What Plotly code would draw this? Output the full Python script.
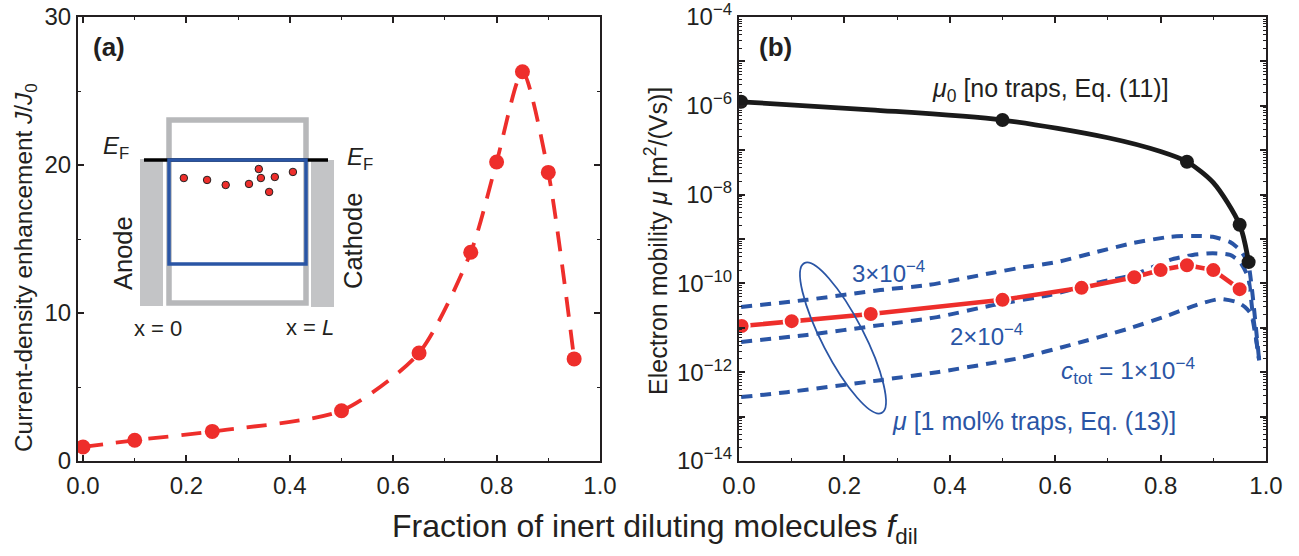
import plotly.graph_objects as go

W, H = 1299, 556
BLUE = "#2a55a5"
RED = "#ee2e2b"
GREY = "#b7b8ba"
FONT = "Liberation Sans"
TXT = "#231f20"

# Panel (a)
f_a = [0.0, 0.1, 0.25, 0.5, 0.65, 0.75, 0.8, 0.85, 0.9, 0.95]
enh = [0.95, 1.4, 2.0, 3.4, 7.3, 14.1, 20.2, 26.3, 19.5, 6.9]
inset_f = [0.195, 0.240, 0.276, 0.321, 0.340, 0.344, 0.371, 0.406, 0.360]
inset_v = [19.12, 18.99, 18.65, 18.72, 19.73, 19.12, 19.19, 19.53, 18.18]

# Panel (b): log10 of mobility
f_black = [0.004, 0.25, 0.5, 0.7, 0.8, 0.85, 0.9, 0.95, 0.967]
log_black = [-5.91, -6.09, -6.32, -6.72, -7.03, -7.26, -7.73, -8.68, -9.52]
f_red = [0.005, 0.1, 0.25, 0.5, 0.65, 0.75, 0.8, 0.85, 0.9, 0.95]
log_red = [-10.96, -10.85, -10.69, -10.37, -10.10, -9.86, -9.70, -9.59, -9.70, -10.13]
f_dots = [0.004, 0.5, 0.85, 0.95, 0.967]
log_dots = [-5.91, -6.32, -7.26, -8.68, -9.52]
f_3 = [0.004, 0.129, 0.268, 0.357, 0.482, 0.533, 0.603, 0.679, 0.748, 0.818, 0.861, 0.899, 0.932, 0.951, 0.966, 0.973, 0.987]
log_3 = [-10.53, -10.37, -10.15, -10.04, -9.76, -9.65, -9.52, -9.29, -9.09, -8.95, -8.93, -8.95, -9.07, -9.25, -9.54, -10.1, -11.73]
f_2 = [0.004, 0.129, 0.268, 0.376, 0.482, 0.59, 0.685, 0.748, 0.818, 0.861, 0.899, 0.932, 0.951, 0.966, 0.974, 0.987]
log_2 = [-11.32, -11.16, -10.94, -10.76, -10.49, -10.26, -9.97, -9.81, -9.47, -9.36, -9.32, -9.36, -9.52, -9.86, -10.6, -11.73]
f_1 = [0.004, 0.091, 0.268, 0.376, 0.482, 0.533, 0.628, 0.736, 0.805, 0.875, 0.913, 0.945, 0.96, 0.972, 0.979, 0.987]
log_1 = [-12.56, -12.45, -12.18, -12.0, -11.79, -11.68, -11.39, -11.03, -10.76, -10.46, -10.35, -10.42, -10.53, -10.7, -11.1, -11.73]

decades = list(range(-14, -3))
dec_labels = [f"10<sup>\u2212{-d}</sup>" if d % 2 == 0 else "" for d in decades]
xticks = [0.0, 0.2, 0.4, 0.6, 0.8, 1.0]
xticklabels = ["0.0", "0.2", "0.4", "0.6", "0.8", "1.0"]

# frame positions in pixels
AL, AR, BL, BR, TOP, BOT = 78, 600, 739, 1266, 17, 461


def px(x):
    return x / W


def py(y):
    return 1 - y / H


fig = go.Figure()

axis_common = dict(showline=True, linewidth=2.2, linecolor=TXT, mirror="ticks", ticks="inside",
                   tickcolor=TXT, tickwidth=1.5, showgrid=False, zeroline=False,
                   tickfont=dict(family=FONT, size=24, color=TXT))
minor_style = dict(ticks="inside", ticklen=3, tickcolor=TXT, tickwidth=1.2)
fig.update_layout(
    width=W, height=H, margin=dict(l=0, r=0, t=0, b=0, autoexpand=False), paper_bgcolor="white", plot_bgcolor="white",
    showlegend=False, font=dict(family=FONT, color=TXT),
    xaxis=dict(domain=[px(AL), px(AR)], anchor="y", range=[-0.0097, 1.0], tickvals=xticks, ticktext=xticklabels,
               ticklen=6, ticklabelstandoff=2, minor=dict(dtick=0.1, **minor_style), **axis_common),
    yaxis=dict(domain=[py(BOT), py(TOP)], anchor="x", range=[0, 30], tickvals=[0, 10, 20, 30], ticklen=6,
               minor=dict(dtick=5, **minor_style), **axis_common),
    xaxis2=dict(domain=[px(BL), px(BR)], anchor="y2", range=[0, 1.0], tickvals=xticks, ticktext=xticklabels,
                ticklen=6, ticklabelstandoff=2, minor=dict(dtick=0.1, **minor_style), **axis_common),
    yaxis2=dict(domain=[py(BOT), py(TOP)], anchor="x2", type="log", range=[-14, -4],
                tickvals=[10.0**d for d in decades], ticktext=dec_labels, ticklen=6,
                minor=dict(tickvals=[m * 10.0**d for d in decades[:-1] for m in range(2, 10)], **minor_style),
                **axis_common),
)


def rect(x0, y0, x1, y1, line=None, fill=None, lw=0):
    fig.add_shape(type="rect", xref="paper", yref="paper", x0=px(x0), x1=px(x1), y0=py(y0), y1=py(y1),
                  line=dict(color=line or "rgba(0,0,0,0)", width=lw), fillcolor=fill or "rgba(0,0,0,0)", layer="above")


# inset
rect(140, 159, 163, 306, fill="#c3c4c6")
rect(311, 160, 334, 307, fill="#c3c4c6")
rect(169, 120, 306, 303, line=GREY, lw=5.5)
fig.add_shape(type="line", xref="paper", yref="paper", x0=px(144), x1=px(328), y0=py(160), y1=py(160),
              line=dict(color="black", width=3.5), layer="above")
rect(169, 160, 306, 264, line=BLUE, lw=3.5)

# ellipse
cx, cy = 843, 338
u = (38.7, 74.9)
v = (18.6, -9.6)
k = 0.5523
P = lambda a, b: f"{px(cx + a * u[0] + b * v[0]):.5f} {py(cy + a * u[1] + b * v[1]):.5f}"
path = (f"M {P(1, 0)} C {P(1, k)} {P(k, 1)} {P(0, 1)} C {P(-k, 1)} {P(-1, k)} {P(-1, 0)} "
        f"C {P(-1, -k)} {P(-k, -1)} {P(0, -1)} C {P(k, -1)} {P(1, -k)} {P(1, 0)} Z")
fig.add_shape(type="path", xref="paper", yref="paper", path=path, line=dict(color=BLUE, width=1.8), layer="above")

# panel a
fig.add_trace(go.Scatter(x=f_a, y=enh, mode="lines", line=dict(color=RED, width=3.8, dash="20px,13px", shape="spline", smoothing=0.7),
                         xaxis="x", yaxis="y"))
fig.add_trace(go.Scatter(x=f_a, y=enh, mode="markers", marker=dict(color=RED, size=15), xaxis="x", yaxis="y"))

# panel b
for xs, ys in ((f_3, log_3), (f_2, log_2), (f_1, log_1)):
    fig.add_trace(go.Scatter(x=xs, y=[10.0**q for q in ys], mode="lines", xaxis="x2", yaxis="y2",
                             line=dict(color=BLUE, width=4, dash="11px,8px", shape="spline", smoothing=0.6)))
fig.add_trace(go.Scatter(x=f_black, y=[10.0**q for q in log_black], mode="lines", xaxis="x2", yaxis="y2",
                         line=dict(color="#1a1a1a", width=4.8, shape="spline", smoothing=0.8)))
fig.add_trace(go.Scatter(x=f_dots, y=[10.0**q for q in log_dots], mode="markers", xaxis="x2", yaxis="y2",
                         marker=dict(color="#1a1a1a", size=14)))
fig.add_trace(go.Scatter(x=f_red, y=[10.0**q for q in log_red], mode="lines", xaxis="x2", yaxis="y2",
                         line=dict(color=RED, width=4.6)))
fig.add_trace(go.Scatter(x=f_red, y=[10.0**q for q in log_red], mode="markers", xaxis="x2", yaxis="y2",
                         marker=dict(color=RED, size=16, line=dict(color="white", width=2))))
# inset traps
fig.add_trace(go.Scatter(x=inset_f, y=inset_v, mode="markers", xaxis="x", yaxis="y",
                         marker=dict(color=RED, size=7.5, line=dict(color="#222222", width=1))))


def text(x, y, s, size=25, color=TXT, angle=0, anchor="center"):
    fig.add_annotation(xref="paper", yref="paper", x=px(x), y=py(y), text=s, showarrow=False, xanchor=anchor, yanchor="middle",
                       textangle=angle, font=dict(family=FONT, size=size, color=color))


text(109, 47, "<b>(a)</b>", 26)
text(775, 47, "<b>(b)</b>", 26)
text(116, 147, "<i>E</i><sub>F</sub>", 24)
text(360, 158, "<i>E</i><sub>F</sub>", 24)
text(123, 253, "Anode", 25.5, angle=-90)
text(353, 241, "Cathode", 25.5, angle=-90)
text(158, 328, "x = 0", 22)
text(310, 327, "x = <i>L</i>", 22)
text(1050, 90, "<i>\u03bc</i><sub>0</sub> [no traps, Eq. (11)]", 25)
text(888, 272, "3\u00d710<sup>\u22124</sup>", 24, BLUE)
text(987, 335, "2\u00d710<sup>\u22124</sup>", 24, BLUE)
text(1128, 370, "<i>c</i><sub>tot</sub> = 1\u00d710<sup>\u22124</sup>", 24.5, BLUE)
text(1034, 421, "<i>\u03bc</i> [1 mol% traps, Eq. (13)]", 25, BLUE)
text(655, 528, "Fraction of inert diluting molecules <i>f</i><sub>dil</sub>", 32)
text(25, 268, "Current-density enhancement <i>J</i>/<i>J</i><sub>0</sub>", 24.4, angle=-90)
text(656, 241, "Electron mobility <i>\u03bc</i> [m<sup>2</sup>/(Vs)]", 25, angle=-90)

fig.write_html("out.html", config={"displayModeBar": False}, post_script="document.body.style.margin='0';")
